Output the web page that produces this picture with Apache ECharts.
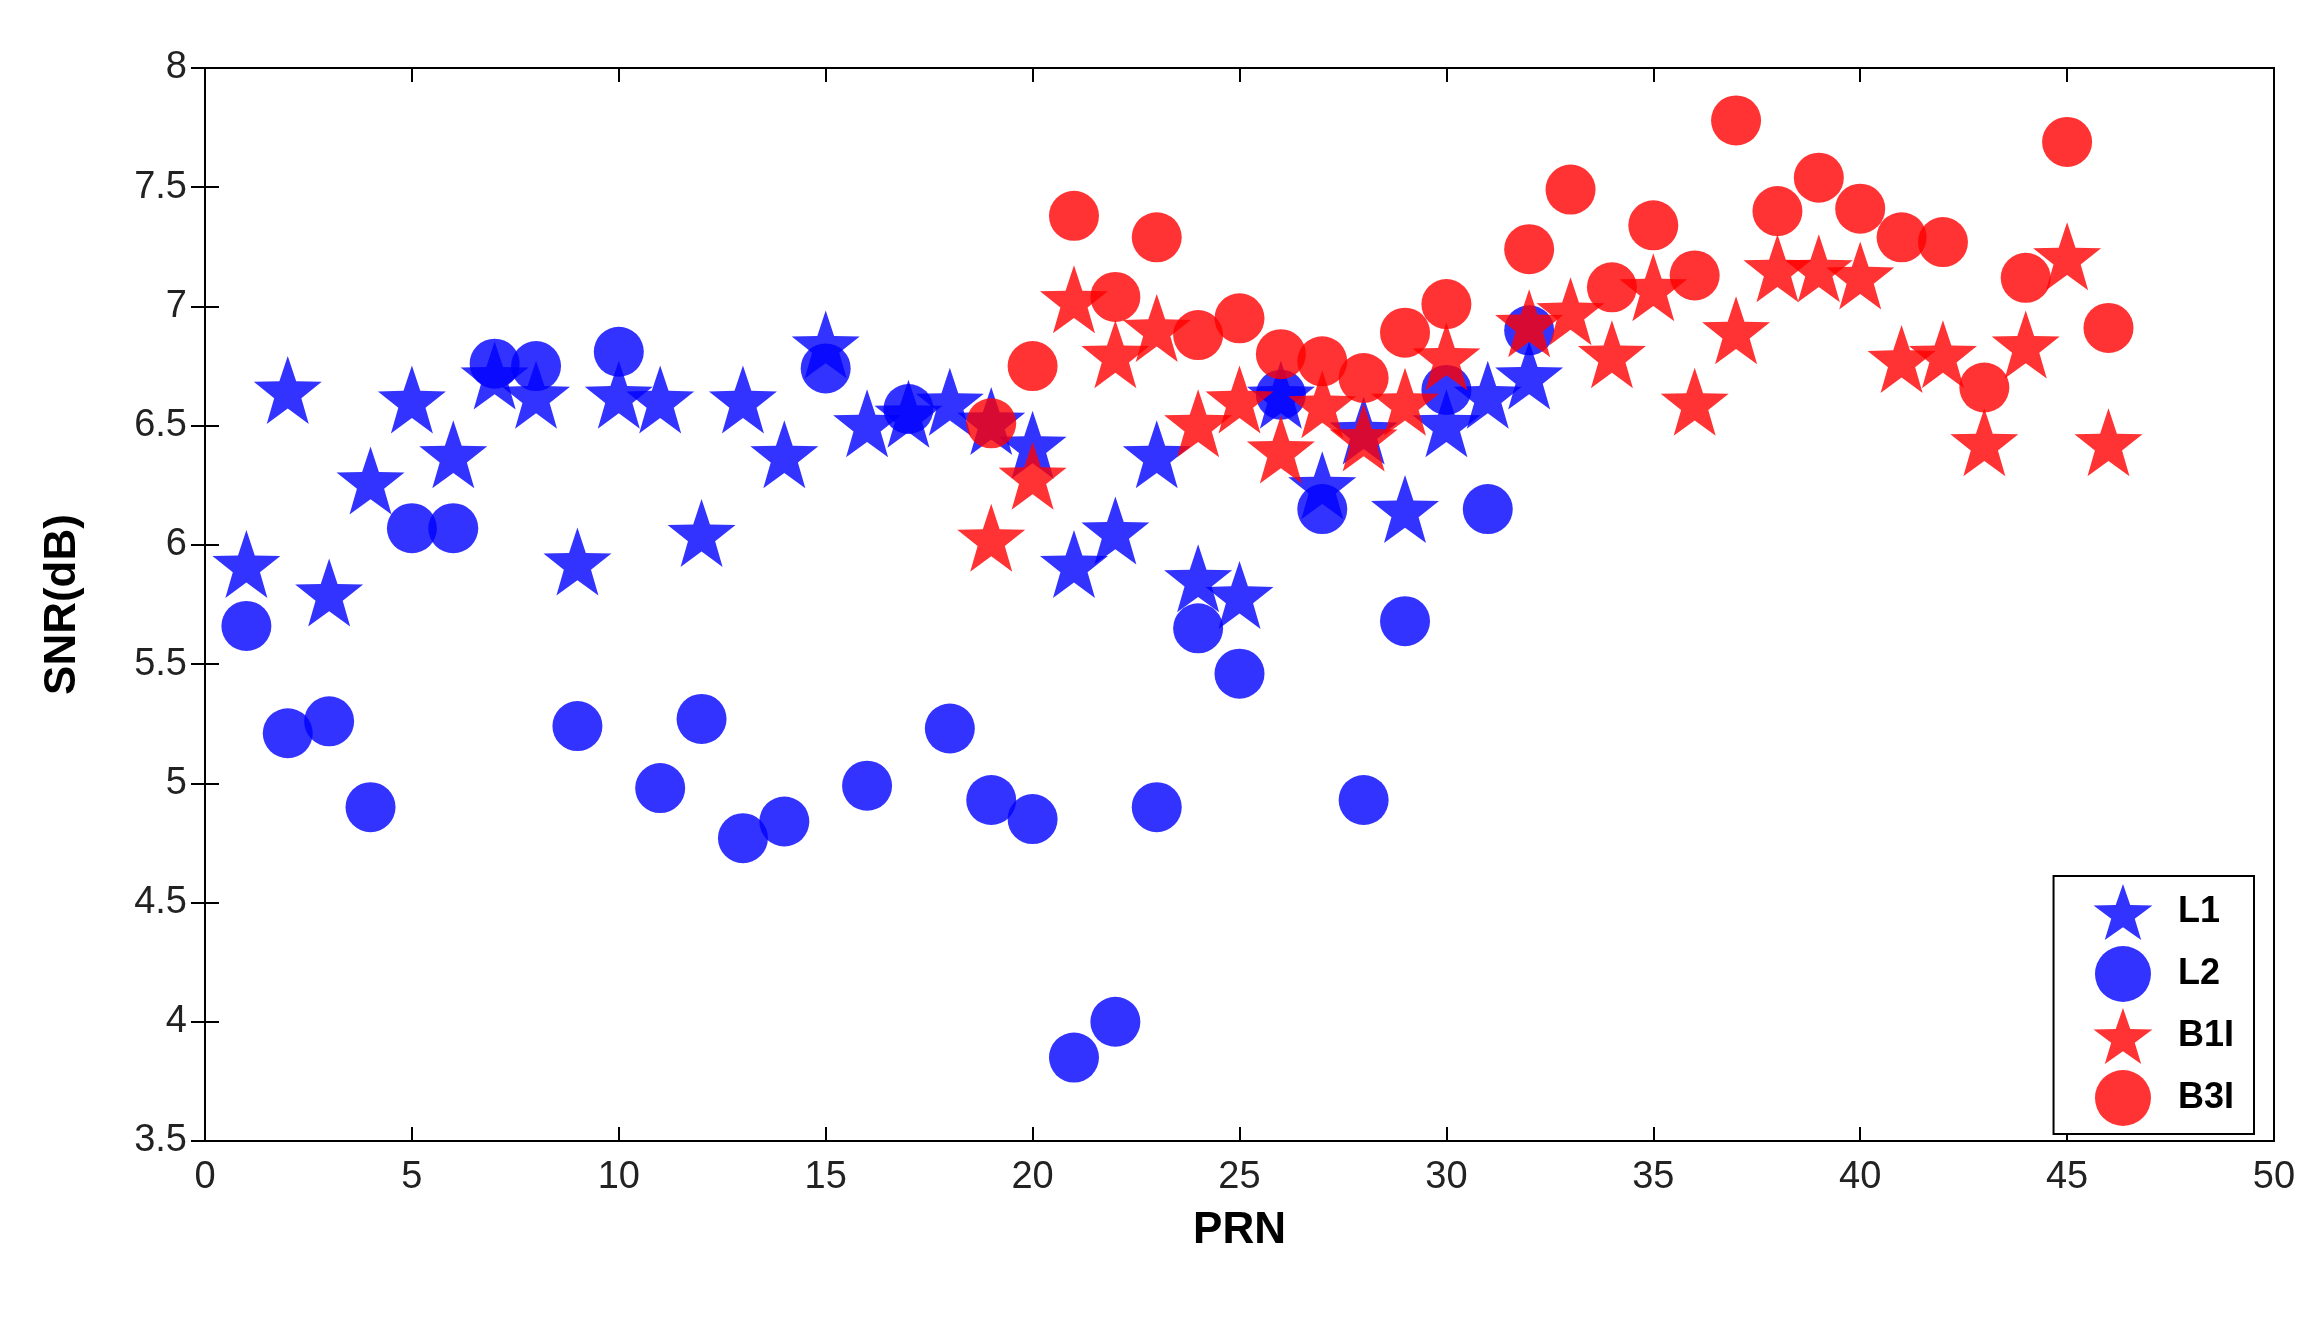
<!DOCTYPE html>
<html>
<head>
<meta charset="utf-8">
<script src="https://cdn.jsdelivr.net/npm/echarts@6/dist/echarts.min.js"></script>
<style>html,body{margin:0;padding:0;background:#fff}#chart{width:2321px;height:1318px}</style>
</head>
<body>
<div id="chart"></div>
<script>
const prnL = [1,2,3,4,5,6,7,8,9,10,11,12,13,14,15,16,17,18,19,20,21,22,23,24,25,26,27,28,29,30,31,32];
const l1 = [5.92,6.65,5.80,6.27,6.61,6.38,6.71,6.63,5.93,6.63,6.61,6.05,6.61,6.38,6.84,6.51,6.55,6.60,6.52,6.42,5.92,6.06,6.38,5.86,5.79,6.63,6.25,6.48,6.15,6.51,6.63,6.71];
const l2 = [5.66,5.21,5.26,4.90,6.07,6.07,6.76,6.75,5.24,6.81,4.98,5.27,4.77,4.84,6.74,4.99,6.57,5.23,4.93,4.85,3.85,4.00,4.90,5.65,5.46,6.63,6.15,4.93,5.68,6.65,6.15,6.90];
const prnB = [19,20,21,22,23,24,25,26,27,28,29,30,32,33,34,35,36,37,38,39,40,41,42,43,44,45,46];
const b1i = [6.03,6.29,7.03,6.80,6.91,6.51,6.61,6.40,6.59,6.45,6.60,6.79,6.93,6.98,6.80,7.08,6.60,6.90,7.16,7.16,7.13,6.78,6.80,6.43,6.84,7.21,6.43];
const b3i = [6.51,6.75,7.38,7.04,7.29,6.88,6.95,6.80,6.77,6.70,6.89,7.01,7.24,7.49,7.08,7.34,7.13,7.78,7.40,7.54,7.41,7.29,7.27,6.66,7.12,7.69,6.91];

const zip = (xs, ys) => xs.map((x, i) => [x, ys[i]]);
const font = 'Liberation Sans, Arial, sans-serif';
const tickStyle = { inside: true, length: 14, lineStyle: { color: '#000', width: 2 } };

const chart = echarts.init(document.getElementById('chart'));
chart.setOption({
  animation: false,
  grid: { left: 205, right: 47, top: 68, bottom: 177, show: true, borderColor: '#000', borderWidth: 2 },
  xAxis: [
    { type: 'value', min: 0, max: 50, interval: 5, name: 'PRN', nameLocation: 'middle', nameGap: 68,
      nameTextStyle: { fontFamily: font, fontWeight: 'bold', fontSize: 44, color: '#000' },
      axisLine: { lineStyle: { color: '#000', width: 2 } }, axisTick: tickStyle,
      axisLabel: { fontFamily: font, fontSize: 38, color: '#222', margin: 18 }, splitLine: { show: false } },
    { type: 'value', position: 'top', min: 0, max: 50, interval: 5, axisTick: tickStyle,
      axisLine: { lineStyle: { color: '#000', width: 2 } }, axisLabel: { show: false }, splitLine: { show: false } }
  ],
  yAxis: [
    { type: 'value', min: 3.5, max: 8, interval: 0.5, name: 'SNR(dB)', nameLocation: 'middle', nameGap: 120,
      nameTextStyle: { fontFamily: font, fontWeight: 'bold', fontSize: 44, color: '#000' },
      axisLine: { lineStyle: { color: '#000', width: 2 } }, axisTick: tickStyle,
      axisLabel: { fontFamily: font, fontSize: 38, color: '#222', margin: 18 }, splitLine: { show: false } },
    { type: 'value', position: 'right', min: 3.5, max: 8, interval: 0.5, axisTick: tickStyle,
      axisLine: { lineStyle: { color: '#000', width: 2 } }, axisLabel: { show: false }, splitLine: { show: false } }
  ],
  legend: {
    orient: 'vertical', right: 67, bottom: 184, itemWidth: 60, itemHeight: 56, itemGap: 6,
    padding: [8, 20, 8, 40], borderColor: '#000', borderWidth: 2, backgroundColor: '#fff',
    textStyle: { fontFamily: font, fontWeight: 'bold', fontSize: 36, color: '#000', padding: [0, 0, 0, 20] },
    data: ['L1', 'L2', 'B1I', 'B3I']
  },
  series: [
    { name: 'L1', type: 'scatter', symbol: 'path://M0,-10L2.35,-3.24L9.51,-3.09L3.8,1.24L5.88,8.09L0,4L-5.88,8.09L-3.8,1.24L-9.51,-3.09L-2.35,-3.24Z', symbolSize: 68, itemStyle: { color: '#0000ff' }, data: zip(prnL, l1) },
    { name: 'L2', type: 'scatter', symbol: 'circle', symbolSize: 50, itemStyle: { color: '#0000ff' }, data: zip(prnL, l2) },
    { name: 'B1I', type: 'scatter', symbol: 'path://M0,-10L2.35,-3.24L9.51,-3.09L3.8,1.24L5.88,8.09L0,4L-5.88,8.09L-3.8,1.24L-9.51,-3.09L-2.35,-3.24Z', symbolSize: 68, itemStyle: { color: '#ff0000' }, data: zip(prnB, b1i) },
    { name: 'B3I', type: 'scatter', symbol: 'circle', symbolSize: 50, itemStyle: { color: '#ff0000' }, data: zip(prnB, b3i) }
  ]
});
</script>
</body>
</html>
